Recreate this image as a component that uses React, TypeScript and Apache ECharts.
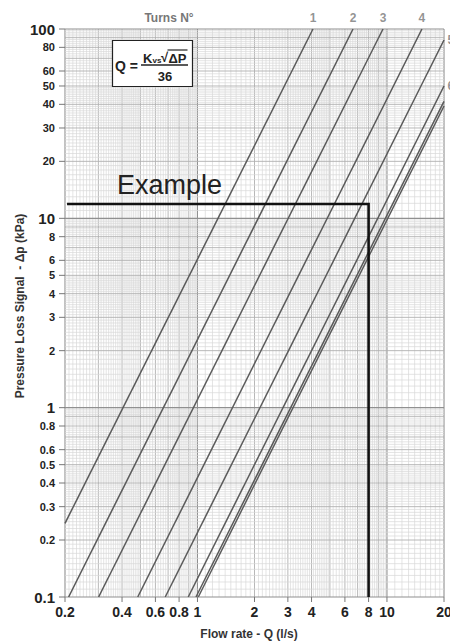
import React, { useEffect, useRef } from 'react';
import * as echarts from 'echarts';

// Turns lines: start point and end point of each straight log-log line
const turnLabels = ['1', '2', '3', '4', '5', '6', '', ''];
const startQ = [0.2, 0.209, 0.301, 0.484, 0.676, 0.894, 0.982, 1.01];
const startDp = [0.245, 0.1, 0.1, 0.1, 0.1, 0.1, 0.1, 0.1];
const endQ = [4.07, 6.62, 9.53, 15.3, 20, 20, 20, 20];
const endDp = [100, 100, 100, 100, 87.5, 50, 41.5, 39.2];

// Example reading
const exampleQ = [0.205, 8, 8];
const exampleDp = [11.9, 11.9, 0.1];

// Tick labels
const xTickLabels = [0.2, 0.4, 0.6, 0.8, 1, 2, 3, 4, 6, 8, 10, 20];
const yTickLabels = [0.1, 0.2, 0.3, 0.4, 0.5, 0.6, 0.8, 1, 2, 3, 4, 5, 6, 8, 10, 20, 30, 40, 50, 60, 80, 100];

const X_MIN = 0.2, X_MAX = 20, Y_MIN = 0.1, Y_MAX = 100;
const FONT = '"Liberation Sans", Arial, Helvetica, sans-serif';

// log-paper grid positions (axis decoration)
function gridValues(min: number, max: number): number[][] {
  const out: number[][] = [];
  for (let e = -2; e <= 2; e++) {
    const b = Math.pow(10, e);
    for (let k = 10; k < 100; ) {
      const v = +(k / 10 * b).toPrecision(6);
      if (v >= min * 0.9999 && v <= max * 1.0001) {
        const w = k === 10 ? 2 : k % 10 === 0 ? 1 : 0;
        out.push([v, w]);
      }
      k += k < 50 ? 1 : 2;
    }
  }
  return out.map(([v, w]) => [v, Math.abs(v - min) < 1e-9 || Math.abs(v - max) < 1e-9 ? 2 : w]);
}

const gridColors = ['#d9d9d9', '#b0b0b0', '#909090'];
const gridWidths = [0.7, 0.9, 1.1];

export default function App() {
  const ref = useRef<HTMLDivElement>(null);

  useEffect(() => {
    if (!ref.current) return;
    const chart = echarts.init(ref.current, undefined, { renderer: 'svg' });

    const vGrid = gridValues(X_MIN, X_MAX).map(([v, w]) => [v, 1, w]);
    const hGrid = gridValues(Y_MIN, Y_MAX).map(([v, w]) => [1, v, w]);

    const lineSeries = turnLabels.map((t, i) => ({
      type: 'line',
      name: 'Turn ' + (t || i + 1),
      data: [[startQ[i], startDp[i]], [endQ[i], endDp[i]]],
      symbol: 'none',
      silent: true,
      z: 3,
      lineStyle: { color: '#5a5a5a', width: 1.5 },
    }));

    const labelData = turnLabels
      .map((t, i) => ({ t, i }))
      .filter((d) => d.t)
      .map(({ t, i }) => ({
        value: [endQ[i], endDp[i]],
        name: t,
        label: {
          position: endDp[i] >= Y_MAX ? 'top' : 'right',
          distance: endDp[i] >= Y_MAX ? 5 : 3,
        },
      }));

    const txt = (text: string, x: number, y: number, font: string, align = 'left', fill = '#222') => ({
      type: 'text', silent: true, z: 20,
      style: { text, x, y, textAlign: align, textVerticalAlign: 'middle', fill, font },
    });

    chart.setOption({
      animation: false,
      backgroundColor: '#ffffff',
      grid: { left: 65, right: 6, top: 29, bottom: 44, containLabel: false },
      xAxis: {
        type: 'log', logBase: 10, min: X_MIN, max: X_MAX,
        axisLine: { show: false }, axisTick: { show: false },
        axisLabel: { show: false }, splitLine: { show: false },
      },
      yAxis: {
        type: 'log', logBase: 10, min: Y_MIN, max: Y_MAX,
        axisLine: { show: false }, axisTick: { show: false },
        axisLabel: { show: false }, splitLine: { show: false },
      },
      series: [
        {
          type: 'custom', silent: true, z: 1, clip: false,
          data: vGrid,
          renderItem: (params: any, api: any) => {
            const cs = params.coordSys;
            const x = api.coord([api.value(0), 1])[0];
            const w = api.value(2);
            return {
              type: 'line',
              shape: { x1: x, y1: cs.y, x2: x, y2: cs.y + cs.height },
              style: { stroke: gridColors[w], lineWidth: gridWidths[w] },
            };
          },
        },
        {
          type: 'custom', silent: true, z: 1, clip: false,
          data: hGrid,
          renderItem: (params: any, api: any) => {
            const cs = params.coordSys;
            const y = api.coord([1, api.value(1)])[1];
            const w = api.value(2);
            return {
              type: 'line',
              shape: { x1: cs.x, y1: y, x2: cs.x + cs.width, y2: y },
              style: { stroke: gridColors[w], lineWidth: gridWidths[w] },
            };
          },
        },
        {
          type: 'custom', silent: true, z: 2, clip: false,
          data: xTickLabels.map((v) => [v, 1]),
          renderItem: (params: any, api: any) => {
            const cs = params.coordSys;
            const v = api.value(0);
            const x = api.coord([v, 1])[0];
            const yb = cs.y + cs.height;
            return {
              type: 'group',
              children: [
                { type: 'line', shape: { x1: x, y1: yb, x2: x, y2: yb + 5 }, style: { stroke: '#777', lineWidth: 1 } },
                {
                  type: 'text',
                  style: {
                    text: String(v), x, y: yb + 15, textAlign: 'center', textVerticalAlign: 'middle',
                    fill: '#222', font: 'bold 14px ' + FONT,
                  },
                },
              ],
            };
          },
        },
        {
          type: 'custom', silent: true, z: 2, clip: false,
          data: yTickLabels.map((v) => [1, v]),
          renderItem: (params: any, api: any) => {
            const cs = params.coordSys;
            const v = api.value(1);
            const y = api.coord([1, v])[1];
            const decade = Math.abs(Math.log10(v) - Math.round(Math.log10(v))) < 1e-6;
            return {
              type: 'group',
              children: [
                { type: 'line', shape: { x1: cs.x - 6, y1: y, x2: cs.x, y2: y }, style: { stroke: '#777', lineWidth: 1 } },
                {
                  type: 'text',
                  style: {
                    text: String(v), x: cs.x - 10, y, textAlign: 'right', textVerticalAlign: 'middle',
                    fill: '#222', font: (decade ? 'bold 15px ' : 'bold 11px ') + FONT,
                  },
                },
              ],
            };
          },
        },
        ...lineSeries,
        {
          type: 'line',
          name: 'Example',
          data: exampleQ.map((q, i) => [q, exampleDp[i]]),
          symbol: 'none', silent: true, z: 4,
          lineStyle: { color: '#111', width: 2.6, join: 'miter', cap: 'butt' },
        },
        {
          type: 'scatter', silent: true, z: 5, clip: false,
          symbolSize: 1,
          itemStyle: { color: 'rgba(0,0,0,0)' },
          data: labelData,
          label: {
            show: true,
            formatter: (p: any) => p.name,
            color: '#777', fontWeight: 'bold', fontSize: 12, fontFamily: FONT,
          },
        },
      ],
      graphic: [
        txt('Turns N°', 169, 18, 'bold 12px ' + FONT, 'center', '#777'),
        txt('Example', 117, 185, '27px ' + FONT, 'left', '#222'),
        {
          type: 'rect', silent: true, z: 19,
          shape: { x: 112.5, y: 40.5, width: 80, height: 46 },
          style: { fill: '#fff', stroke: '#222', lineWidth: 1.2 },
        },
        txt('Q =', 115, 66, 'bold 14px ' + FONT),
        txt('K', 143, 58, 'bold 13px ' + FONT),
        txt('vs', 152.5, 60.5, 'bold 8px ' + FONT),
        txt('√', 161, 57.5, 'bold 13px ' + FONT),
        txt('ΔP', 168.5, 58, 'bold 13px ' + FONT),
        {
          type: 'line', silent: true, z: 20,
          shape: { x1: 167.5, y1: 50, x2: 187.5, y2: 50 },
          style: { stroke: '#222', lineWidth: 1.2 },
        },
        {
          type: 'line', silent: true, z: 20,
          shape: { x1: 141, y1: 65, x2: 188, y2: 65 },
          style: { stroke: '#222', lineWidth: 1.3 },
        },
        txt('36', 165, 76, 'bold 13px ' + FONT, 'center'),
        {
          type: 'text', silent: true, z: 20, rotation: Math.PI / 2, x: 20, y: 306,
          style: { text: 'Pressure Loss Signal  - Δp (kPa)', x: 0, y: 0, textAlign: 'center', textVerticalAlign: 'middle', fill: '#333', font: 'bold 12px ' + FONT },
        },
        txt('Flow rate - Q (l/s)', 249, 634, 'bold 12px ' + FONT, 'center', '#333'),
      ],
    });

    return () => chart.dispose();
  }, []);

  return (
    <div
      ref={ref}
      style={{ position: 'fixed', left: 0, top: 0, width: 450, height: 641, background: '#fff' }}
    />
  );
}
